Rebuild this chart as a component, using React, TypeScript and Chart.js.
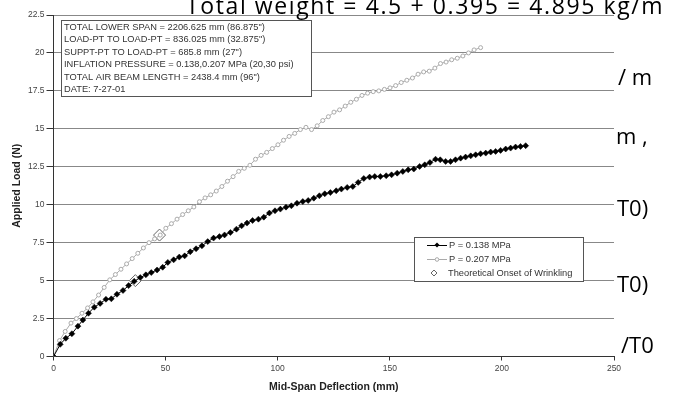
import React, { useEffect, useRef } from "react";
import { Chart, registerables } from "chart.js";

Chart.register(...registerables);

// ---- data ----
const seriesLabels = ["P = 0.138 MPa", "P = 0.207 MPa", "Theoretical Onset of Wrinkling"];

const lowX = [0, 3.0, 5.5, 8.2, 10.9, 13.1, 15.6, 18.2, 20.8, 23.4, 25.8, 28.3, 31.0, 33.5, 36.0, 38.7, 41.2, 43.6, 46.2, 48.7, 51.0, 53.6, 56.1, 58.5, 61.0, 63.6, 66.2, 68.8, 71.4, 74.0, 76.3, 78.9, 81.6, 83.9, 86.3, 88.8, 91.4, 93.8, 96.3, 98.8, 101.2, 103.7, 106.1, 108.6, 111.2, 113.6, 116.1, 118.6, 121.0, 123.5, 126.1, 128.4, 131.0, 133.5, 135.9, 138.4, 141.0, 143.3, 145.8, 148.4, 150.8, 153.3, 155.8, 158.2, 160.7, 163.3, 165.6, 167.9, 170.4, 172.5, 174.9, 177.1, 179.3, 181.6, 183.8, 186.1, 188.3, 190.5, 192.8, 195.0, 197.2, 199.4, 201.7, 203.9, 206.1, 208.3, 210.6];
const lowY = [0, 0.8, 1.2, 1.5, 2.0, 2.4, 2.85, 3.25, 3.5, 3.77, 3.8, 4.1, 4.35, 4.67, 4.95, 5.2, 5.38, 5.53, 5.7, 5.88, 6.2, 6.37, 6.55, 6.63, 6.9, 7.1, 7.29, 7.57, 7.8, 7.9, 8.01, 8.17, 8.39, 8.61, 8.79, 8.96, 9.05, 9.18, 9.45, 9.6, 9.71, 9.84, 9.93, 10.1, 10.21, 10.28, 10.43, 10.59, 10.72, 10.8, 10.92, 11.03, 11.14, 11.2, 11.47, 11.73, 11.82, 11.86, 11.86, 11.91, 11.97, 12.08, 12.19, 12.3, 12.35, 12.52, 12.63, 12.78, 13.0, 12.96, 12.85, 12.85, 12.96, 13.07, 13.14, 13.22, 13.29, 13.36, 13.4, 13.47, 13.51, 13.58, 13.67, 13.73, 13.8, 13.84, 13.89];

const highX = [0, 2.7, 5.2, 7.8, 10.2, 12.7, 15.2, 17.6, 20.1, 22.6, 25.1, 27.6, 30.1, 32.6, 35.1, 37.6, 40.1, 42.6, 45.1, 47.6, 50.1, 52.6, 55.1, 57.6, 60.1, 62.6, 65.1, 67.6, 70.1, 72.6, 75.1, 77.6, 80.1, 82.6, 85.1, 87.6, 90.1, 92.6, 95.1, 97.6, 100.1, 102.6, 105.1, 107.6, 110.1, 112.6, 115.1, 117.6, 120.1, 122.6, 125.1, 127.6, 130.1, 132.6, 135.1, 137.6, 140.1, 142.6, 145.1, 147.6, 150.1, 152.6, 155.1, 157.6, 160.1, 162.6, 165.1, 167.6, 170.1, 172.6, 175.1, 177.6, 180.1, 182.6, 185.1, 187.6, 190.5];
const highY = [0, 1.05, 1.65, 2.2, 2.5, 2.85, 3.2, 3.6, 4.05, 4.55, 5.05, 5.4, 5.75, 6.1, 6.45, 6.8, 7.15, 7.5, 7.75, 8.0, 8.45, 8.75, 9.05, 9.35, 9.6, 9.85, 10.2, 10.45, 10.65, 10.9, 11.2, 11.55, 11.85, 12.2, 12.4, 12.6, 13.0, 13.25, 13.45, 13.7, 13.95, 14.25, 14.5, 14.7, 14.95, 15.1, 14.95, 15.2, 15.55, 15.8, 16.1, 16.25, 16.5, 16.75, 16.95, 17.2, 17.35, 17.45, 17.5, 17.6, 17.7, 17.85, 18.05, 18.2, 18.35, 18.6, 18.75, 18.8, 19.0, 19.3, 19.4, 19.55, 19.65, 19.8, 20.0, 20.2, 20.35];

const onsetX = [36.5, 47.3];
const onsetY = [5.0, 8.0];

const xTickValues = [0, 50, 100, 150, 200, 250];
const yTickValues = [0, 2.5, 5, 7.5, 10, 12.5, 15, 17.5, 20, 22.5];

const infoLines = [
  "TOTAL LOWER SPAN = 2206.625 mm (86.875\")",
  "LOAD-PT TO LOAD-PT = 836.025 mm (32.875\")",
  "SUPPT-PT TO LOAD-PT = 685.8 mm (27\")",
  "INFLATION PRESSURE = 0.138,0.207 MPa (20,30 psi)",
  "TOTAL AIR BEAM LENGTH = 2438.4 mm (96\")",
  "DATE: 7-27-01",
];

const xTitle = "Mid-Span Deflection (mm)";
const yTitle = "Applied Load (N)";

const overlayTexts = [
  { text: "Total weight = 4.5 + 0.395 = 4.895 kg/m", left: 186, top: -6, spacing: 1.6, size: 23 },
  { text: "/ m", left: 618, top: 65, spacing: 0, size: 22 },
  { text: "m ,", left: 616, top: 124, spacing: 0, size: 22 },
  { text: "T0)", left: 617, top: 196, spacing: 0, size: 22 },
  { text: "T0)", left: 617, top: 272, spacing: 0, size: 22 },
  { text: "/T0", left: 621, top: 333, spacing: 0, size: 22 },
];

const toPoints = (xs: number[], ys: number[]) => xs.map((x, i) => ({ x, y: ys[i] }));

const FONT = '"Liberation Sans", Arial, sans-serif';

const boxesPlugin = {
  id: "boxes",
  afterDraw(chart: any) {
    const ctx = chart.ctx as CanvasRenderingContext2D;
    ctx.save();
    // info box
    ctx.fillStyle = "#ffffff";
    ctx.fillRect(61.5, 20.5, 250, 76);
    ctx.strokeStyle = "#555555";
    ctx.lineWidth = 1;
    ctx.strokeRect(61.5, 20.5, 250, 76);
    ctx.fillStyle = "#333333";
    ctx.font = `9.3px ${FONT}`;
    ctx.textBaseline = "middle";
    ctx.textAlign = "left";
    infoLines.forEach((t, i) => ctx.fillText(t, 64, 27 + i * 12.5));

    // legend
    ctx.fillStyle = "#ffffff";
    ctx.fillRect(414.5, 237.5, 169, 44);
    ctx.strokeStyle = "#555555";
    ctx.strokeRect(414.5, 237.5, 169, 44);
    const rows = [245, 259, 273];
    ctx.strokeStyle = "#000000";
    ctx.beginPath();
    ctx.moveTo(427, rows[0] + 0.5);
    ctx.lineTo(447, rows[0] + 0.5);
    ctx.stroke();
    ctx.fillStyle = "#000000";
    ctx.beginPath();
    ctx.moveTo(437, rows[0] - 2.5);
    ctx.lineTo(439.5, rows[0]);
    ctx.lineTo(437, rows[0] + 2.5);
    ctx.lineTo(434.5, rows[0]);
    ctx.closePath();
    ctx.fill();
    ctx.strokeStyle = "#aaaaaa";
    ctx.beginPath();
    ctx.moveTo(427, rows[1] + 0.5);
    ctx.lineTo(447, rows[1] + 0.5);
    ctx.stroke();
    ctx.fillStyle = "#ffffff";
    ctx.beginPath();
    ctx.arc(437, rows[1] + 0.5, 1.8, 0, Math.PI * 2);
    ctx.fill();
    ctx.stroke();
    ctx.strokeStyle = "#666666";
    ctx.beginPath();
    ctx.moveTo(434, rows[2] - 3);
    ctx.lineTo(437, rows[2]);
    ctx.lineTo(434, rows[2] + 3);
    ctx.lineTo(431, rows[2]);
    ctx.closePath();
    ctx.fill();
    ctx.stroke();

    ctx.fillStyle = "#333333";
    ctx.font = `9.3px ${FONT}`;
    ctx.fillText(seriesLabels[0], 449, rows[0]);
    ctx.fillText(seriesLabels[1], 449, rows[1]);
    ctx.fillText(seriesLabels[2], 448, rows[2]);
    ctx.restore();
  },
};

export default function App() {
  const ref = useRef<HTMLCanvasElement | null>(null);

  useEffect(() => {
    const canvas = ref.current;
    if (!canvas) return;
    const chart = new Chart(canvas, {
      type: "scatter",
      data: {
        datasets: [
          {
            label: seriesLabels[0],
            data: toPoints(lowX, lowY),
            showLine: true,
            borderColor: "#000000",
            borderWidth: 1,
            backgroundColor: "#000000",
            pointStyle: "rectRot",
            pointRadius: 3,
            pointBorderWidth: 0.5,
            pointBorderColor: "#000000",
          },
          {
            label: seriesLabels[1],
            data: toPoints(highX, highY),
            showLine: true,
            borderColor: "#aaaaaa",
            borderWidth: 1,
            backgroundColor: "#ffffff",
            pointStyle: "circle",
            pointRadius: 2,
            pointBorderWidth: 1,
            pointBorderColor: "#aaaaaa",
          },
          {
            label: seriesLabels[2],
            data: toPoints(onsetX, onsetY),
            showLine: false,
            pointStyle: "rectRot",
            pointRadius: 6,
            pointBorderWidth: 1,
            pointBorderColor: "#666666",
            backgroundColor: "#ffffff",
          },
        ],
      },
      options: {
        animation: false,
        responsive: false,
        maintainAspectRatio: false,
        events: [],
        layout: { padding: { left: 0, top: 15, right: 65, bottom: 0 } },
        plugins: {
          legend: { display: false },
          tooltip: { enabled: false },
        },
        scales: {
          x: {
            type: "linear",
            min: 0,
            max: 250,
            afterBuildTicks: (s: any) => {
              s.ticks = xTickValues.map((v) => ({ value: v }));
            },
            afterFit: (s: any) => {
              s.height = 39.5;
            },
            grid: {
              drawOnChartArea: false,
              drawTicks: true,
              tickLength: 4,
              tickColor: "#333333",
            },
            border: { display: true, color: "#333333", width: 1 },
            ticks: {
              color: "#444444",
              font: { family: FONT, size: 8.5 },
              padding: 3,
              maxRotation: 0,
            },
            title: {
              display: true,
              text: xTitle,
              color: "#222222",
              font: { family: FONT, size: 10.5, weight: "bold" },
              padding: { top: 0, bottom: 3 },
            },
          },
          y: {
            type: "linear",
            min: 0,
            max: 22.5,
            afterBuildTicks: (s: any) => {
              s.ticks = yTickValues.map((v) => ({ value: v }));
            },
            afterFit: (s: any) => {
              s.width = 53.5;
            },
            grid: {
              color: "#888888",
              lineWidth: 1,
              drawTicks: true,
              tickLength: 7,
              tickColor: "#333333",
            },
            border: { display: true, color: "#333333", width: 1 },
            ticks: {
              color: "#444444",
              font: { family: FONT, size: 8.5 },
              padding: 2,
            },
            title: {
              display: true,
              text: yTitle,
              color: "#222222",
              font: { family: FONT, size: 10.5, weight: "bold" },
              padding: { top: 11, bottom: 0 },
            },
          },
        },
      },
      plugins: [boxesPlugin],
    } as any);
    return () => chart.destroy();
  }, []);

  return (
    <div style={{ position: "fixed", left: 0, top: 0, width: 679, height: 396, background: "#ffffff", overflow: "hidden" }}>
      <canvas ref={ref} width={679} height={396} style={{ position: "absolute", left: 0, top: 0, width: 679, height: 396 }} />
      {overlayTexts.map((o, i) => (
        <div
          key={i}
          style={{
            position: "absolute",
            left: o.left,
            top: o.top,
            fontFamily: '"Open Sans", sans-serif',
            fontSize: o.size,
            lineHeight: `${o.size}px`,
            letterSpacing: o.spacing,
            color: "#000000",
            whiteSpace: "nowrap",
          }}
        >
          {o.text}
        </div>
      ))}
    </div>
  );
}
